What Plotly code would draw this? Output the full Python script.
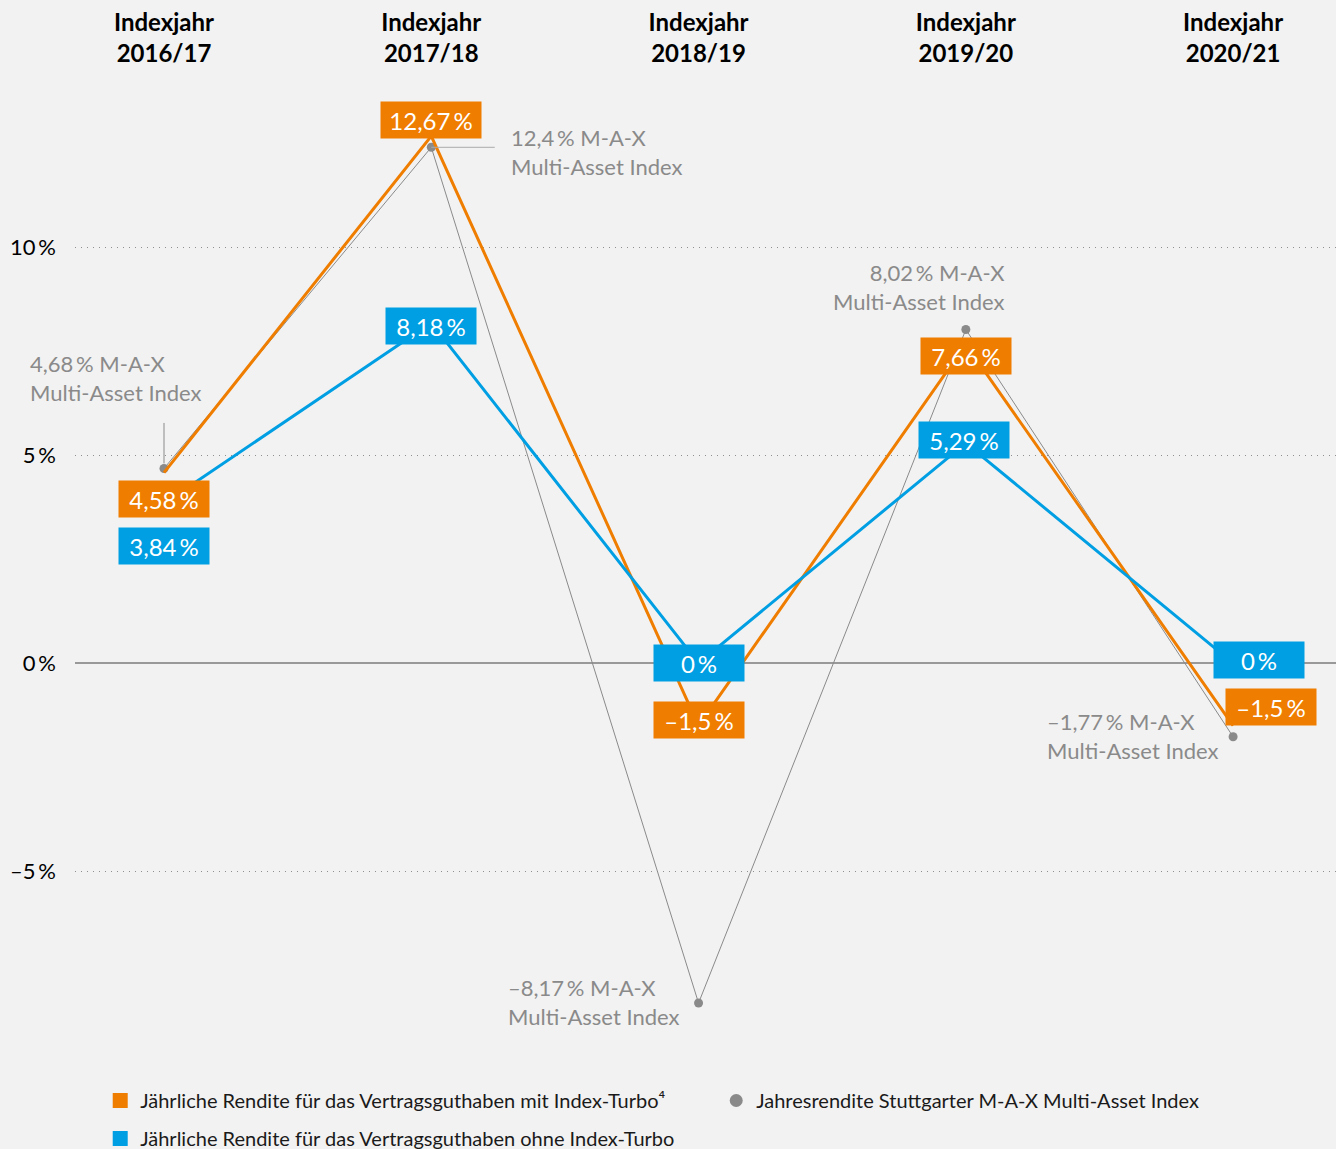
import plotly.graph_objects as go

# Indexjahre
years = ['Indexjahr<br>2016/17', 'Indexjahr<br>2017/18', 'Indexjahr<br>2018/19',
         'Indexjahr<br>2019/20', 'Indexjahr<br>2020/21']
x_pos = [0, 1, 2, 3, 4]

# Renditen in %
mit_turbo = [4.58, 12.67, -1.5, 7.66, -1.5]
ohne_turbo = [3.84, 8.18, 0, 5.29, 0]
max_index = [4.68, 12.4, -8.17, 8.02, -1.77]

y_ticks = [-5, 0, 5, 10]
y_ticktext = ['–5\u2009%', '0\u2009%', '5\u2009%', '10\u2009%']

name_mit = 'Jährliche Rendite für das Vertragsguthaben mit Index-Turbo⁴'
name_ohne = 'Jährliche Rendite für das Vertragsguthaben ohne Index-Turbo'
name_max = 'Jahresrendite Stuttgarter M-A-X Multi-Asset Index'

orange = '#ef7d00'
blue = '#009fe3'
grey = '#8a8a8a'
bg = '#f2f2f2'
font = 'Lato'


def fmt(v):
    s = f'{v:g}'.replace('.', ',').replace('-', '–')
    return s + '\u2009%'


fig = go.Figure()

fig.add_trace(go.Scatter(x=x_pos, y=max_index, mode='lines+markers',
                         line=dict(color=grey, width=1),
                         marker=dict(color=grey, size=9),
                         showlegend=False, hoverinfo='skip'))
fig.add_trace(go.Scatter(x=x_pos, y=mit_turbo, mode='lines',
                         line=dict(color=orange, width=3),
                         showlegend=False, hoverinfo='skip'))
fig.add_trace(go.Scatter(x=x_pos, y=ohne_turbo, mode='lines',
                         line=dict(color=blue, width=3),
                         showlegend=False, hoverinfo='skip'))

# legend entries (two legends so the rows can be spaced like the original)
fig.add_trace(go.Scatter(x=[None], y=[None], mode='markers', name=name_mit,
                         marker=dict(symbol='square', size=15, color=orange), legend='legend'))
fig.add_trace(go.Scatter(x=[None], y=[None], mode='markers', name=name_max,
                         marker=dict(symbol='circle', size=13, color=grey), legend='legend'))
fig.add_trace(go.Scatter(x=[None], y=[None], mode='markers', name=name_ohne,
                         marker=dict(symbol='square', size=15, color=blue), legend='legend2'))

# value boxes (pixel offsets from the data point)
orange_shift = [(0, -26), (0, 16), (0, 6), (0, -12), (38, 19)]
blue_shift = [(0, -43), (0, -3), (0, 0), (-2, 3), (26, 3)]
orange_width = [80, 90, 80, 80, 80]

annotations = []
for i, v in enumerate(mit_turbo):
    annotations.append(dict(x=x_pos[i], y=v, text=fmt(v), showarrow=False,
                            xshift=orange_shift[i][0], yshift=orange_shift[i][1],
                            bgcolor=orange, borderpad=5, width=orange_width[i], height=26,
                            font=dict(family=font, size=24, color='white')))
for i, v in enumerate(ohne_turbo):
    annotations.append(dict(x=x_pos[i], y=v, text=fmt(v), showarrow=False,
                            xshift=blue_shift[i][0], yshift=blue_shift[i][1],
                            bgcolor=blue, borderpad=5, width=80, height=26,
                            font=dict(family=font, size=24, color='white')))

# M-A-X labels
max_style = [('right', 'bottom', 39, 60, 'left'),
             ('left', 'middle', 78, -5, 'left'),
             ('right', 'middle', -18, 1, 'left'),
             ('right', 'bottom', 41, 13, 'right'),
             ('right', 'middle', -13, 1, 'left')]
for i, v in enumerate(max_index):
    xa, ya, xs, ys, al = max_style[i]
    annotations.append(dict(x=x_pos[i], y=v, text=fmt(v) + ' M-A-X<br>Multi-Asset Index',
                            showarrow=False, xanchor=xa, yanchor=ya, xshift=xs, yshift=ys,
                            align=al, font=dict(family=font, size=22, color=grey)))

# leader lines
annotations.append(dict(x=x_pos[0], y=max_index[0], text='', showarrow=True,
                        arrowhead=0, arrowwidth=1, arrowcolor=grey,
                        ax=0, ay=-47, standoff=5))
annotations.append(dict(x=x_pos[1], y=max_index[1], text='', showarrow=True,
                        arrowhead=0, arrowwidth=1, arrowcolor='#aaaaaa',
                        ax=65, ay=0, standoff=0))

legend_style = dict(orientation='h', x=0.020, xanchor='left', yanchor='top',
                    yref='container', entrywidth=571, entrywidthmode='pixels',
                    traceorder='normal', bgcolor='rgba(0,0,0,0)',
                    font=dict(family=font, size=20, color='#1a1a1a'))

fig.update_layout(
    width=1336, height=1149,
    margin=dict(l=75, r=0, t=72, b=79),
    paper_bgcolor=bg, plot_bgcolor=bg,
    font=dict(family=font, color='#1a1a1a'),
    annotations=annotations,
    showlegend=True,
    legend=dict(legend_style, y=0.0592),
    legend2=dict(legend_style, y=0.0261),
    hovermode=False,
)

fig.update_xaxes(side='top', tickvals=x_pos, ticktext=years, range=[-0.333, 4.385],
                 showgrid=False, zeroline=False, showline=False, ticks='',
                 ticklabelstandoff=4,
                 tickfont=dict(family=font, size=24, color='black', weight='bold'),
                 fixedrange=True)
fig.update_yaxes(range=[-9.78, 14.21], tickvals=y_ticks, ticktext=y_ticktext,
                 showgrid=True, gridcolor='#8f8f8f', griddash='1px,5px', gridwidth=1,
                 zeroline=True, zerolinecolor='#999999', zerolinewidth=1.5,
                 showline=False, ticks='', ticklabelstandoff=18,
                 tickfont=dict(family=font, size=22, color='black'),
                 fixedrange=True)

# drop the default page margin so the chart fills the window
fig.write_html('out.html', config={'displayModeBar': False},
               post_script="document.body.style.margin='0';")
